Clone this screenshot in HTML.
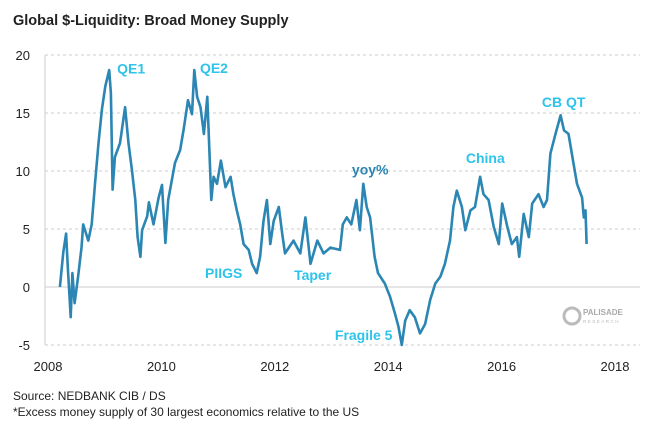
<!DOCTYPE html>
<html><head><meta charset="utf-8"><style>
body{margin:0;background:#fff;width:659px;height:438px;overflow:hidden;font-family:"Liberation Sans",sans-serif}
</style></head><body>
<svg width="659" height="438">
<text x="13" y="25" font-size="14.5" font-weight="bold" fill="#222">Global $-Liquidity: Broad Money Supply</text>
<g id="grid"></g><g id="axes"></g>
<path id="line" fill="none" stroke="#2b86b3" stroke-width="2.6" stroke-linejoin="round"/>
<g id="labels" font-size="14" font-weight="bold"></g>
<g>
<circle cx="572" cy="316" r="8" fill="none" stroke="#bbb" stroke-width="3"/>
<text x="583" y="315" font-size="8" fill="#aaa" font-weight="bold">PALISADE</text>
<text x="583" y="323" font-size="4.5" fill="#bbb" letter-spacing="1.5">RESEARCH</text>
</g>
<text x="13" y="400" font-size="12" fill="#222">Source: NEDBANK CIB / DS</text>
<text x="13" y="416" font-size="12" fill="#222">*Excess money supply of 30 largest economics relative to the US</text>
</svg>
<script>
const years=[2008.21,2008.27,2008.32,2008.35,2008.40,2008.43,2008.47,2008.53,2008.59,2008.62,2008.71,2008.77,2008.83,2008.89,2008.95,2009.01,2009.08,2009.11,2009.14,2009.18,2009.27,2009.36,2009.42,2009.48,2009.54,2009.58,2009.63,2009.66,2009.75,2009.78,2009.86,2009.95,2010.01,2010.07,2010.12,2010.18,2010.24,2010.33,2010.39,2010.47,2010.54,2010.58,2010.63,2010.69,2010.75,2010.81,2010.84,2010.88,2010.92,2010.98,2011.05,2011.13,2011.22,2011.27,2011.33,2011.39,2011.45,2011.54,2011.60,2011.68,2011.74,2011.80,2011.86,2011.92,2011.98,2012.07,2012.13,2012.18,2012.33,2012.45,2012.54,2012.63,2012.75,2012.86,2012.98,2013.15,2013.20,2013.27,2013.35,2013.44,2013.50,2013.56,2013.62,2013.68,2013.76,2013.82,2013.94,2014.03,2014.12,2014.18,2014.24,2014.30,2014.38,2014.47,2014.56,2014.65,2014.74,2014.83,2014.92,2015.00,2015.09,2015.15,2015.21,2015.30,2015.36,2015.45,2015.53,2015.62,2015.68,2015.77,2015.86,2015.95,2016.01,2016.10,2016.18,2016.27,2016.31,2016.39,2016.48,2016.54,2016.65,2016.74,2016.80,2016.86,2016.95,2017.04,2017.10,2017.18,2017.27,2017.33,2017.42,2017.45,2017.48,2017.50];
const values=[0,3.0,4.6,1.7,-2.6,1.2,-1.4,0.9,3.4,5.4,4.0,5.4,9.0,12.4,15.3,17.3,18.7,16.7,8.4,11.2,12.4,15.5,12.4,10.1,7.5,4.3,2.6,4.9,6.1,7.3,5.4,7.7,8.8,3.8,7.5,9.1,10.7,11.8,13.5,16.1,14.9,18.7,16.4,15.5,13.2,16.4,12.6,7.5,9.5,8.9,10.9,8.6,9.5,8.0,6.6,5.4,3.7,3.2,2.0,1.2,2.6,5.7,7.5,3.7,5.7,6.9,4.6,2.9,4.0,2.9,6.0,2.0,4.0,2.9,3.4,3.2,5.4,6.0,5.4,7.5,4.9,8.9,6.9,6.0,2.6,1.2,0.3,-0.8,-2.3,-3.4,-5.0,-2.9,-2.0,-2.6,-4.0,-3.2,-1.1,0.3,0.9,2.0,4.0,6.9,8.3,6.9,4.9,6.6,6.9,9.5,8.0,7.5,5.2,3.7,7.2,5.2,3.7,4.3,2.6,6.3,4.3,7.2,8.0,6.9,7.5,11.5,13.2,14.8,13.5,13.2,10.6,8.9,7.7,6.0,6.6,3.7];
const yTicks=[20,15,10,5,0,-5];
const xTicks=[2008,2010,2012,2014,2016,2018];
const annotations=[["QE1",2009.22,18.4,"#2ec3ea"],["QE2",2010.68,18.45,"#2ec3ea"],["PIIGS",2010.77,0.78,"#2ec3ea"],["Taper",2012.34,0.6,"#2ec3ea"],["yoy%",2013.36,9.7,"#2b86b3"],["China",2015.37,10.7,"#2ec3ea"],["CB QT",2016.71,15.5,"#2ec3ea"],["Fragile 5",2013.06,-4.57,"#2ec3ea"]];
const X=y=>48+(y-2008)*56.7, Y=v=>287-v*11.6;
const NS="http://www.w3.org/2000/svg";
function mk(t,a,p){const e=document.createElementNS(NS,t);for(const k in a)e.setAttribute(k,a[k]);p.appendChild(e);return e;}
const grid=document.getElementById('grid'),axes=document.getElementById('axes'),lab=document.getElementById('labels');
yTicks.forEach(v=>{
 const l=mk('line',{x1:45,x2:640,y1:Y(v),y2:Y(v),stroke:v===0?'#ddd':'#ccc','stroke-width':v===0?1.5:1,'stroke-dasharray':v===0?'':'3,3'},grid);
 
 
 const t=mk('text',{x:30,y:Y(v)+5,'font-size':13,fill:'#222','text-anchor':'end'},axes);t.textContent=v;
 
 
});
const ax=mk('line',{x1:45,x2:45,y1:Y(20),y2:Y(-5),stroke:'#ccc'},axes);


xTicks.forEach(y=>{
 const t=mk('text',{x:X(y),y:371,'font-size':13,fill:'#222','text-anchor':'middle'},axes);t.textContent=y;
 
 
});
let d='';const n=years.length;
for(let i=0;i<n;i++){
 d+=(i?'L':'M')+X(years[i]).toFixed(1)+','+Y(values[i]).toFixed(1);
}
document.getElementById('line').setAttribute('d',d);
annotations.forEach(a=>{
 const t=mk('text',{x:X(a[1]),y:Y(a[2]),fill:a[3]},lab);t.textContent=a[0];
 
 
});
</script>
</body></html>
